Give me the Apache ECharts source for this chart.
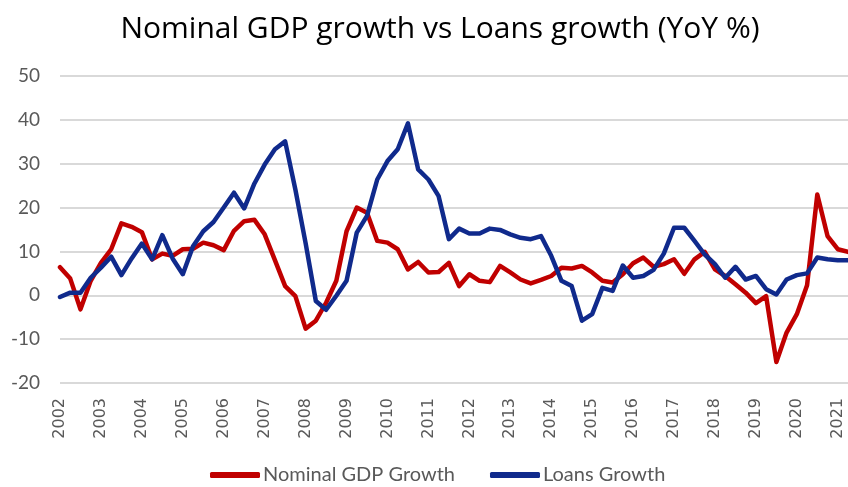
<!DOCTYPE html>
<html>
<head>
<meta charset="utf-8">
<script src="https://cdn.jsdelivr.net/npm/echarts@6/dist/echarts.min.js"></script>
<style>
html,body{margin:0;padding:0;background:#fff;}
#chart{width:848px;height:487px;}
</style>
</head>
<body>
<div id="chart"></div>
<script>
var years = ['2002','2003','2004','2005','2006','2007','2008','2009','2010','2011',
             '2012','2013','2014','2015','2016','2017','2018','2019','2020','2021'];
var quarters = ['Q1','Q2','Q3','Q4'];

var gdpGrowth = [
  6.4, 3.8, -3.2, 3.3,
  7.4, 10.5, 16.4, 15.6,
  14.4, 8.2, 9.5, 9.0,
  10.5, 10.6, 12.0, 11.4,
  10.3, 14.7, 16.9, 17.2,
  13.9, 8.0, 2.1, -0.2,
  -7.6, -5.8, -1.7, 3.3,
  14.6, 20.0, 18.8, 12.4,
  12.0, 10.5, 5.9, 7.6,
  5.2, 5.3, 7.4, 2.1,
  4.8, 3.3, 3.0, 6.7,
  5.2, 3.6, 2.7, 3.5,
  4.4, 6.3, 6.1, 6.7,
  5.2, 3.3, 2.9, 4.8,
  7.3, 8.6, 6.5, 7.1,
  8.2, 4.9, 8.2, 9.9,
  5.9, 4.4, 2.5, 0.6,
  -1.8, -0.2, -15.2, -8.5,
  -4.3, 2.3, 23.0, 13.5,
  10.5, 9.9
];

var loansGrowth = [
  -0.4, 0.6, 0.6, 4.0,
  6.3, 8.8, 4.6, 8.4,
  11.8, 8.2, 13.7, 8.4,
  4.8, 11.2, 14.6, 16.7,
  20.0, 23.4, 19.8, 25.5,
  29.8, 33.3, 35.1, 24.1,
  11.9, -1.3, -3.3, -0.1,
  3.3, 14.3, 18.1, 26.4,
  30.6, 33.3, 39.2, 28.7,
  26.4, 22.6, 12.8, 15.2,
  14.1, 14.1, 15.2, 14.9,
  13.9, 13.1, 12.8, 13.5,
  9.0, 3.3, 2.1, -5.8,
  -4.3, 1.7, 1.0, 6.8,
  4.0, 4.4, 5.8, 9.5,
  15.4, 15.4, 12.4, 9.3,
  7.1, 4.0, 6.5, 3.6,
  4.4, 1.4, 0.2, 3.6,
  4.6, 5.0, 8.6, 8.2,
  8.0, 8.0
];

var yTicks = { min: -20, max: 50, interval: 10 };

var categories = [];
for (var i = 0; i < gdpGrowth.length; i++) {
  categories.push(years[Math.floor(i / 4)] + ' ' + quarters[i % 4]);
}

var chart = echarts.init(document.getElementById('chart'));
chart.setOption({
  animation: false,
  backgroundColor: '#ffffff',
  title: {
    text: 'Nominal GDP growth vs Loans growth (YoY %)',
    left: 435, top: 9, textAlign: 'center',
    textStyle: { fontFamily: 'Open Sans', fontSize: 30, fontWeight: 'normal', color: '#000000' }
  },
  legend: {
    top: 460, left: 205,
    itemWidth: 50, itemHeight: 6, itemGap: 35,
    icon: 'roundRect',
    textStyle: { fontFamily: 'Lato', fontSize: 20, color: '#595959', padding: [0, 0, 0, -2] },
    data: ['Nominal GDP Growth', 'Loans Growth']
  },
  grid: { left: 60, right: 0, top: 76, bottom: 104, containLabel: false },
  xAxis: {
    type: 'category',
    data: categories,
    boundaryGap: false,
    axisTick: { show: false },
    axisLine: { show: true, lineStyle: { color: '#D9D9D9', width: 2 } },
    axisLabel: {
      interval: 3, rotate: 90, margin: 15,
      fontFamily: 'DejaVu Sans', fontSize: 16, color: '#595959',
      formatter: function (v) { return v.split(' ')[0]; }
    },
    splitLine: { show: false }
  },
  yAxis: {
    type: 'value',
    min: yTicks.min, max: yTicks.max, interval: yTicks.interval,
    axisLine: { show: false }, axisTick: { show: false },
    axisLabel: { margin: 20, fontFamily: 'Lato', fontSize: 19, color: '#595959' },
    splitLine: { lineStyle: { color: '#D9D9D9', width: 2 } }
  },
  series: [
    {
      name: 'Nominal GDP Growth', type: 'line', data: gdpGrowth,
      showSymbol: false, symbol: 'none',
      lineStyle: { color: '#C00000', width: 4.5, cap: 'round', join: 'round' },
      itemStyle: { color: '#C00000' }
    },
    {
      name: 'Loans Growth', type: 'line', data: loansGrowth,
      showSymbol: false, symbol: 'none',
      lineStyle: { color: '#102A8C', width: 4.5, cap: 'round', join: 'round' },
      itemStyle: { color: '#102A8C' }
    }
  ]
});
</script>
</body>
</html>
